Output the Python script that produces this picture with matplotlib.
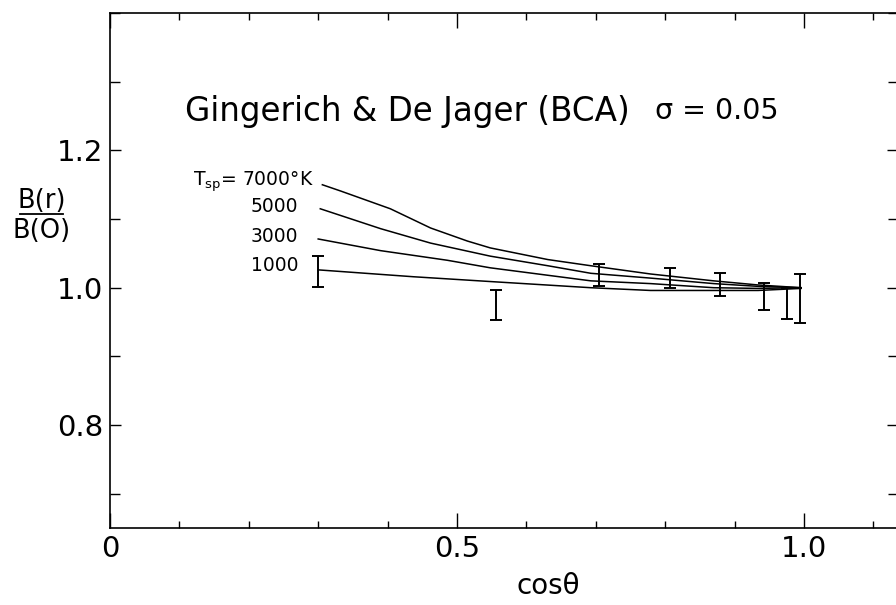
import numpy as np
import matplotlib.pyplot as plt
from matplotlib.ticker import MultipleLocator, FixedLocator

plt.rcParams['font.family'] = ['DejaVu Sans']
plt.rcParams['mathtext.fontset'] = 'dejavusans'

# model curves (cos theta, B(r)/B(0))
x_7000 = [0.306, 0.332, 0.404, 0.462, 0.515, 0.548, 0.631, 0.693, 0.779, 0.870, 0.934, 0.996]
y_7000 = [1.150, 1.141, 1.115, 1.087, 1.068, 1.058, 1.041, 1.032, 1.020, 1.010, 1.004, 1.000]
x_5000 = [0.303, 0.390, 0.462, 0.548, 0.631, 0.693, 0.779, 0.870, 0.934, 0.996]
y_5000 = [1.115, 1.086, 1.065, 1.046, 1.032, 1.021, 1.014, 1.006, 1.002, 1.000]
x_3000 = [0.300, 0.390, 0.486, 0.548, 0.693, 0.779, 0.870, 0.934, 0.996]
y_3000 = [1.071, 1.054, 1.040, 1.029, 1.010, 1.006, 1.000, 0.999, 1.000]
x_1000 = [0.300, 0.437, 0.548, 0.693, 0.779, 0.870, 0.934, 0.996]
y_1000 = [1.026, 1.016, 1.009, 1.000, 0.996, 0.996, 0.996, 0.999]

# observations with error bars
obs_x = [0.300, 0.556, 0.705, 0.807, 0.879, 0.943, 0.976, 0.994]
obs_lo = [1.001, 0.953, 1.003, 1.000, 0.988, 0.968, 0.955, 0.949]
obs_hi = [1.046, 0.997, 1.035, 1.028, 1.022, 1.007, 0.999, 1.020]

curve_labels = ['7000', '5000', '3000', '1000']
xtick_vals = [0, 0.5, 1.0]
xtick_text = ['0', '0.5', '1.0']
ytick_vals = [0.8, 1.0, 1.2]
ytick_text = ['0.8', '1.0', '1.2']

fig = plt.figure(figsize=(8.96, 6.05), dpi=100)
ax = fig.add_axes([0.1228, 0.1273, 0.8795, 0.851])

lw = 1.1
for xs, ys in [(x_7000, y_7000), (x_5000, y_5000), (x_3000, y_3000), (x_1000, y_1000)]:
    ax.plot(xs, ys, color='black', lw=lw)

obs_x = np.array(obs_x)
lo = np.array(obs_lo)
hi = np.array(obs_hi)
mid = (lo + hi) / 2
ax.errorbar(obs_x, mid, yerr=(hi - lo) / 2, fmt='none', ecolor='black',
            elinewidth=1.4, capsize=4.5, capthick=1.4)

ax.set_xlim(0, 1.1357)
ax.set_ylim(0.65, 1.40)

ax.xaxis.set_major_locator(FixedLocator(xtick_vals))
ax.set_xticklabels(xtick_text)
ax.xaxis.set_minor_locator(MultipleLocator(0.1))
ax.yaxis.set_major_locator(FixedLocator(ytick_vals))
ax.set_yticklabels(ytick_text)
ax.yaxis.set_minor_locator(MultipleLocator(0.1))

ax.tick_params(which='both', direction='in', top=True, right=True, width=1.0, labelsize=21)
ax.tick_params(axis='x', which='major', length=10.5, pad=5)
ax.tick_params(axis='x', which='minor', length=5)
ax.tick_params(axis='y', which='major', length=8, pad=5)
ax.tick_params(axis='y', which='minor', length=7.5)
for s in ax.spines.values():
    s.set_linewidth(1.2)

ax.text(0.108, 1.257, 'Gingerich & De Jager (BCA)', fontsize=23.5, va='center', ha='left')
ax.text(0.786, 1.257, 'σ = 0.05', fontsize=20.5, va='center', ha='left')

ax.text(0.293, 1.154, r'T$_{\mathrm{sp}}$= 7000°K', fontsize=13.5, va='center', ha='right')
label_y = [1.154, 1.118, 1.074, 1.033]
for lab, yy in zip(curve_labels[1:], label_y[1:]):
    ax.text(0.271, yy, lab, fontsize=13.5, va='center', ha='right')

# y label as a fraction
ax.text(-0.099, 1.126, 'B(r)', fontsize=18.5, ha='center', va='center', clip_on=False)
ax.text(-0.099, 1.083, 'B(O)', fontsize=18.5, ha='center', va='center', clip_on=False)
ax.plot([-0.130, -0.068], [1.108, 1.108], color='black', lw=1.3, clip_on=False)

ax.set_xlabel('cosθ', fontsize=20, labelpad=0)
ax.xaxis.set_label_coords(0.556, -0.085)

fig.savefig('out.png', dpi=100)
